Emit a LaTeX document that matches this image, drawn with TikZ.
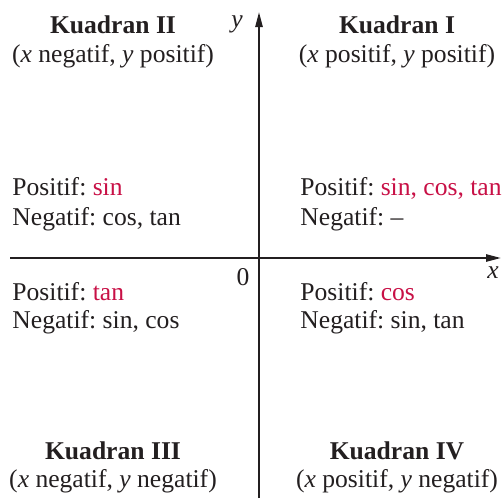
\documentclass[tikz,border=0pt]{standalone}
\usepackage{fontspec}
\setmainfont{Liberation Serif}
\usetikzlibrary{arrows.meta}
\definecolor{kred}{RGB}{200,16,70}
\definecolor{ink}{RGB}{35,31,32}
\frenchspacing

\begin{document}
\begin{tikzpicture}[x=0.5pt,y=-0.5pt,
  txt/.style={inner sep=0pt,text=ink,font=\fontsize{12.8}{14.5}\selectfont},
  head/.style={txt,anchor=base},
  info/.style={txt,anchor=base west},
  axis/.style={draw=ink,line width=1pt,-{Triangle[length=7.5pt,width=3.6pt]}}]
  \useasboundingbox (0,0) rectangle (502,498);

  % axes
  \coordinate (xstart) at (10,258);
  \coordinate (xend) at (501,258);
  \coordinate (ystart) at (259,498);
  \coordinate (yend) at (259,12);
  \draw[axis] (xstart) -- (xend);
  \draw[axis] (ystart) -- (yend);
  \node[head] (xlab) at (493,278) {\textit{x}};
  \node[head] (ylab) at (237,27) {\textit{y}};
  \node[head] (orig) at (243,285) {0};

  % quadrant titles
  \node[head] (q2head) at (113,33) {\textbf{Kuadran II}};
  \node[head] (q2sub) at (113,62) {(\textit{x} negatif, \textit{y} positif)};
  \node[head] (q1head) at (397,33) {\textbf{Kuadran I}};
  \node[head] (q1sub) at (397,62) {(\textit{x} positif, \textit{y} positif)};
  \node[head] (q3head) at (113,459) {\textbf{Kuadran III}};
  \node[head] (q3sub) at (113,487) {(\textit{x} negatif, \textit{y} negatif)};
  \node[head] (q4head) at (397,459) {\textbf{Kuadran IV}};
  \node[head] (q4sub) at (397,487) {(\textit{x} positif, \textit{y} negatif)};

  % signs
  \node[info] (q2pos) at (12,195) {Positif: \textcolor{kred}{sin}};
  \node[info] (q2neg) at (12,225) {Negatif: cos, tan};
  \node[info] (q1pos) at (300,195) {Positif: \textcolor{kred}{sin, cos, tan}};
  \node[info] (q1neg) at (300,225) {Negatif: \textendash};
  \node[info] (q3pos) at (12,300) {Positif: \textcolor{kred}{tan}};
  \node[info] (q3neg) at (12,328) {Negatif: sin, cos};
  \node[info] (q4pos) at (300,300) {Positif: \textcolor{kred}{cos}};
  \node[info] (q4neg) at (300,328) {Negatif: sin, tan};
\end{tikzpicture}
\end{document}
